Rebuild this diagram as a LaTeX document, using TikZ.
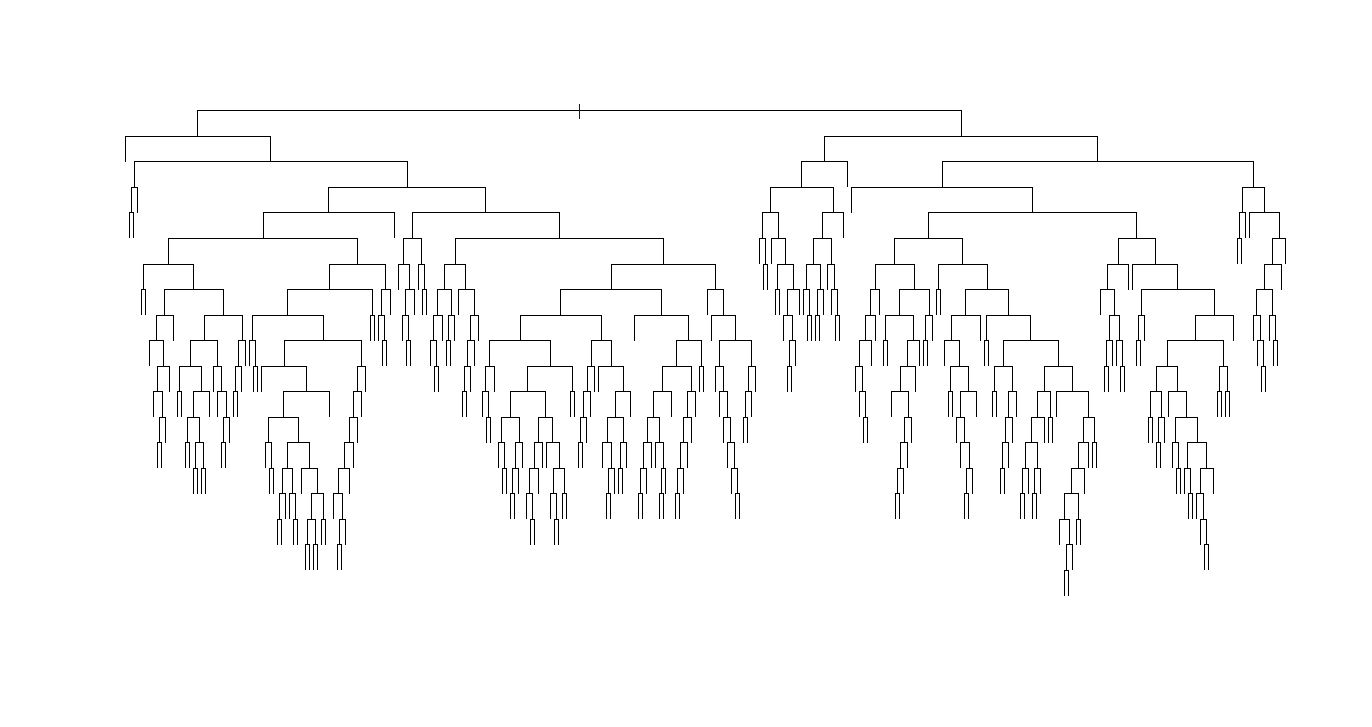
\documentclass[tikz,border=0pt]{standalone}
\begin{document}
\begin{tikzpicture}[x=1pt,y=-1pt,line width=1pt,branch/.style={draw=black,line width=1pt}]
\useasboundingbox[fill=white] (0,0) rectangle (1372,727);
\foreach \k/\a/\b in {
0/197/961,
1/125/270, 1/824/1097,
2/134/407, 2/801/847, 2/942/1253,
3/131/137.3, 3/328/485, 3/770.3/833.3, 3/851/1032, 3/1242.3/1264.3,
4/129.3/133.3, 4/263.3/394.3, 4/412/559.3, 4/762.3/778.3, 4/822.3/843.3, 4/928/1136.7, 4/1239.3/1245.3, 4/1249.3/1279.3,
5/168.3/357.3, 5/403.3/421, 5/455.3/663.3, 5/759.3/765.3, 5/771.3/785.3, 5/813.7/831.3, 5/894.3/962.3, 5/1118.3/1155.3, 5/1237/1241.3, 5/1272.3/1285.3,
6/143.3/193.3, 6/329.3/385.3, 6/398.3/409.3, 6/418.3/424.3, 6/444.3/465.7, 6/611.7/715, 6/763.3/767.3, 6/777.3/793.3, 6/806.3/820.3, 6/827.3/834, 6/875.3/914.3, 6/938.3/987.3, 6/1107.3/1128.3, 6/1132.3/1177.3, 6/1264.3/1281,
7/141.3/145.3, 7/164.3/223.3, 7/287.3/372.3, 7/381.3/390.3, 7/405.3/414.3, 7/422.3/426.3, 7/437.3/451.3, 7/458.3/474.3, 7/560.3/661.7, 7/707.3/723.3, 7/775.3/779.3, 7/787.3/799.3, 7/803.3/809.3, 7/817.3/823.3, 7/831.3/837.3, 7/870.3/879.3, 7/899.3/929.3, 7/936.3/940.3, 7/965.3/1008.3, 7/1100.3/1114.3, 7/1141.3/1214.3, 7/1256.3/1272.3,
8/156.3/173.3, 8/204.3/242.3, 8/252.3/323.3, 8/370.3/374.3, 8/378.3/384.3, 8/402.3/408.3, 8/433.3/442.3, 8/448.3/454.3, 8/470.3/478.3, 8/520.3/601.3, 8/634.3/688.3, 8/711.3/735.3, 8/783.3/792.3, 8/807.3/811.3, 8/815.3/819.3, 8/835.3/839.3, 8/865.3/875.3, 8/885.3/913.3, 8/925.3/932.3, 8/951.3/980.3, 8/986.3/1030.3, 8/1109.7/1119.3, 8/1138.3/1144.3, 8/1195.3/1233.3, 8/1253.3/1260.3, 8/1269.3/1275.3,
9/149.3/163.3, 9/190.3/217.3, 9/238.3/245.3, 9/249.3/255.3, 9/284.3/361.3, 9/382.3/386.3, 9/406.3/410.3, 9/430.3/436.3, 9/446.3/450.3, 9/467.3/474.3, 9/489.3/550.3, 9/591.3/611.3, 9/676.3/701.3, 9/719.3/751.3, 9/789.3/795.3, 9/859.3/871.3, 9/883.3/887.3, 9/907.3/919.3, 9/923.3/927.3, 9/944.3/959.3, 9/984.3/988.3, 9/1003.3/1058.7, 9/1106.3/1112.3, 9/1116.3/1122.3, 9/1136.3/1140.3, 9/1167.3/1223.3, 9/1257.3/1263.3, 9/1273.3/1277.3,
10/157.3/169.3, 10/179.3/201.3, 10/213.3/221.3, 10/235.3/241.3, 10/253.3/257.3, 10/261.3/306.7, 10/357.3/365.3, 10/434.3/438.3, 10/464.3/470.3, 10/485.3/494.3, 10/527.3/572.3, 10/587.3/594.3, 10/598.3/623.3, 10/662.3/691.3, 10/699.3/703.3, 10/715.3/723.3, 10/748.3/755.3, 10/787.3/791.3, 10/855.3/862.3, 10/900.3/915.3, 10/950.3/968.3, 10/994.3/1012.3, 10/1044.3/1072.3, 10/1104.3/1108.3, 10/1120.3/1124.3, 10/1156.3/1177.3, 10/1219.3/1227.3, 10/1261.3/1265.3,
11/153.3/162.3, 11/177.3/181.3, 11/193.3/209.3, 11/217.3/226.3, 11/233.3/237.3, 11/283.3/329.3, 11/353.3/361.3, 11/462.3/466.3, 11/482.3/488.3, 11/510.3/545.3, 11/570.3/574.3, 11/583.3/590.3, 11/615.3/630.3, 11/653.3/671.3, 11/687.3/695.3, 11/719.3/727.3, 11/745.3/751.3, 11/859.3/865.3, 11/891.3/908.3, 11/948.3/952.3, 11/960.3/976.3, 11/992.3/996.3, 11/1008.3/1016.3, 11/1037.3/1050.3, 11/1056.3/1088.3, 11/1150.3/1161.3, 11/1168.3/1186.3, 11/1217.3/1221.3, 11/1225.3/1229.3,
12/159.3/165.3, 12/187.3/199.3, 12/223.3/229.3, 12/268.3/298.3, 12/349.3/357.3, 12/486.3/490.3, 12/501.3/519.3, 12/538.3/552.3, 12/580.3/586.3, 12/607.3/623.3, 12/647.3/659.3, 12/683.3/691.3, 12/723.3/730.3, 12/743.3/747.3, 12/863.3/867.3, 12/904.3/911.3, 12/956.3/964.3, 12/1005.3/1012.3, 12/1031.3/1044.3, 12/1048.3/1052.3, 12/1083.3/1094.3, 12/1148.3/1152.3, 12/1158.3/1164.3, 12/1175.3/1197.3,
13/157.3/161.3, 13/185.3/189.3, 13/195.3/203.3, 13/221.3/225.3, 13/265.3/271.3, 13/287.3/309.3, 13/344.3/353.3, 13/498.3/504.3, 13/515.3/522.3, 13/534.3/542.3, 13/546.3/559.3, 13/578.3/582.3, 13/602.3/611.3, 13/620.3/626.3, 13/643.3/651.3, 13/655.3/663.3, 13/680.3/687.3, 13/727.3/734.3, 13/900.3/907.3, 13/960.3/969.3, 13/1002.3/1008.3, 13/1025.3/1037.3, 13/1078.3/1088.3, 13/1092.3/1096.3, 13/1156.3/1160.3, 13/1172.3/1178.3, 13/1187.3/1206.3,
14/193.3/197.3, 14/201.3/205.3, 14/269.3/273.3, 14/282.3/292.3, 14/301.3/317.3, 14/338.3/349.3, 14/502.3/506.3, 14/512.3/518.3, 14/529.3/538.3, 14/553.3/564.3, 14/608.3/614.3, 14/618.3/622.3, 14/640.3/646.3, 14/661.3/665.3, 14/677.3/683.3, 14/731.3/737.3, 14/897.3/903.3, 14/966.3/972.3, 14/1000.3/1004.3, 14/1022.3/1028.3, 14/1034.3/1040.3, 14/1071.3/1084.3, 14/1176.3/1180.3, 14/1184.3/1190.3, 14/1200.3/1213.3,
15/279.3/285.3, 15/289.3/295.3, 15/311.7/323.3, 15/333.3/342.3, 15/510.3/514.3, 15/526.3/532.3, 15/550.3/556.3, 15/562.3/566.3, 15/606.3/610.3, 15/638.3/642.3, 15/659.3/663.3, 15/675.3/679.3, 15/735.3/739.3, 15/895.3/899.3, 15/964.3/968.3, 15/1020.3/1024.3, 15/1032.3/1036.3, 15/1064.3/1078.3, 15/1188.3/1192.3, 15/1196.3/1203.3,
16/277.3/281.3, 16/293.3/297.3, 16/307.3/315.3, 16/321.3/325.3, 16/339.3/345.3, 16/530.3/534.3, 16/554.3/558.3, 16/1059.7/1069.3, 16/1076.3/1080.3, 16/1200.3/1206.3,
17/305.3/309.3, 17/313.3/317.3, 17/337.3/341.3, 17/1066.3/1072.3, 17/1204.3/1208.3,
18/1064.3/1068.3}
{
  \pgfmathsetmacro\ya{111+25.5*\k}
  \pgfmathsetmacro\yb{\ya+25.5}
  \draw[branch] (\a,\yb) |- (\b,\ya) -- (\b,\yb);
}
\coordinate (rtop) at (579,104);
\coordinate (rbot) at (579,119);
\draw[branch,draw=black!80!brown] (rtop) -- (rbot);
\end{tikzpicture}
\end{document}
